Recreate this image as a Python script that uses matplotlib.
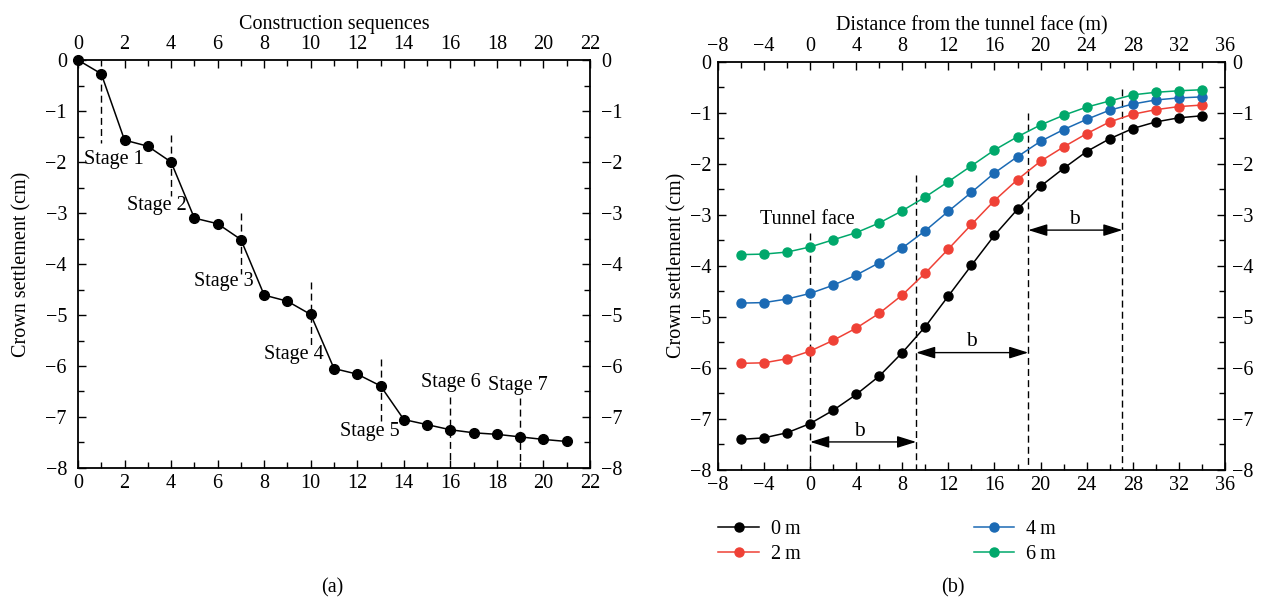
import matplotlib
matplotlib.use("Agg")
import matplotlib.pyplot as plt
from matplotlib.ticker import MultipleLocator

plt.rcParams["font.family"] = ["Liberation Serif", "DejaVu Serif"]
FS = 14.5
plt.rcParams["font.size"] = FS

# ── (a) construction sequences ──────────────────────────────────
seq = list(range(22))
crown_seq = [0.0, -0.27, -1.57, -1.69, -2.0, -3.10, -3.21, -3.52, -4.61, -4.73, -4.99,
             -6.05, -6.16, -6.39, -7.05, -7.15, -7.25, -7.31, -7.34, -7.39, -7.44, -7.48]
stage_names = ["Stage 1", "Stage 2", "Stage 3", "Stage 4", "Stage 5", "Stage 6", "Stage 7"]
stage_x     = [1, 4, 7, 10, 13, 16, 19]
stage_y0    = [-0.25, -1.48, -3.0, -4.36, -5.87, -6.6, -6.62]
stage_y1    = [-1.62, -2.67, -4.2, -5.61, -7.08, -7.9, -7.9]
stage_lx    = [1.55, 3.41, 6.27, 9.27, 12.53, 16.0, 18.9]
stage_ly    = [-1.95, -2.86, -4.34, -5.77, -7.29, -6.33, -6.39]

# ── (b) distance from tunnel face ───────────────────────────────
dist = list(range(-6, 35, 2))
s0 = [-7.40, -7.37, -7.27, -7.09, -6.83, -6.52, -6.16, -5.70, -5.19, -4.59, -3.99,
      -3.40, -2.89, -2.44, -2.09, -1.76, -1.51, -1.31, -1.18, -1.10, -1.06]
s2 = [-5.91, -5.90, -5.82, -5.67, -5.46, -5.22, -4.93, -4.57, -4.14, -3.67, -3.19,
      -2.72, -2.31, -1.95, -1.67, -1.41, -1.18, -1.03, -0.94, -0.88, -0.85]
s4 = [-4.73, -4.72, -4.65, -4.54, -4.38, -4.18, -3.94, -3.65, -3.31, -2.93, -2.56,
      -2.18, -1.86, -1.56, -1.33, -1.13, -0.95, -0.83, -0.75, -0.71, -0.69]
s6 = [-3.78, -3.77, -3.73, -3.63, -3.49, -3.35, -3.16, -2.92, -2.65, -2.35, -2.04,
      -1.73, -1.47, -1.24, -1.05, -0.89, -0.77, -0.65, -0.60, -0.57, -0.55]
series_labels = ["0\u2009m", "2\u2009m", "4\u2009m", "6\u2009m"]
series_colors = ["#000000", "#ef4136", "#1b6ab4", "#00a86b"]

dash_x  = [0, 9.2, 18.93, 27.1]
dash_y0 = [-3.36, -2.22, -1.01, -0.54]
arrow_y = [-7.45, -5.70, -3.30]
b_lx    = [4.3, 13.96, 22.9]
b_ly    = [-7.25, -5.49, -3.10]

DASH = (0, (5, 3))


def style_axes(ax, ypad, ylabelpad):
    ax.tick_params(which="both", direction="in", top=True, right=True,
                   labeltop=True, labelright=True, labelsize=FS, pad=4)
    ax.tick_params(axis="y", which="major", pad=ypad)
    ax.tick_params(which="major", length=6, width=1)
    ax.tick_params(which="minor", length=4, width=1)
    ax.yaxis.set_major_locator(MultipleLocator(1))
    ax.yaxis.set_minor_locator(MultipleLocator(0.5))
    ax.set_ylim(-8, 0)
    ax.set_ylabel("Crown settlement (cm)", fontsize=FS, labelpad=ylabelpad)
    ax.xaxis.set_label_position("top")
    for sp in ax.spines.values():
        sp.set_linewidth(1.3)


fig = plt.figure(figsize=(12.64, 6.10), dpi=100)

# (a)
ax1 = fig.add_axes([0.0617, 0.2328, 0.4051, 0.6688])
ax1.plot(seq, crown_seq, color="black", lw=1.1, marker="o", ms=7, clip_on=False, zorder=3)
for x, y0, y1 in zip(stage_x, stage_y0, stage_y1):
    ax1.plot([x, x], [y0, y1], color="black", lw=1, ls=DASH)
for name, lx, ly in zip(stage_names, stage_lx, stage_ly):
    ax1.text(lx, ly, name, ha="center", va="center", fontsize=FS)
ax1.set_xlim(0, 22)
ax1.xaxis.set_major_locator(MultipleLocator(2))
ax1.xaxis.set_minor_locator(MultipleLocator(1))
style_axes(ax1, ypad=8, ylabelpad=10)
ax1.set_xlabel("Construction sequences", fontsize=FS, labelpad=5)

# (b)
ax2 = fig.add_axes([0.568, 0.2295, 0.4011, 0.6694])
for ys, lab, col in zip([s0, s2, s4, s6], series_labels, series_colors):
    ax2.plot(dist, ys, color=col, lw=1.1, marker="o", ms=6.5, label=lab, zorder=3)
for x, y0 in zip(dash_x, dash_y0):
    ax2.plot([x, x], [y0, -8], color="black", lw=1, ls=DASH)
for i, (ay, lx, ly) in enumerate(zip(arrow_y, b_lx, b_ly)):
    ax2.annotate("", xy=(dash_x[i + 1], ay), xytext=(dash_x[i], ay),
                 arrowprops=dict(arrowstyle="<|-|>,head_length=0.8,head_width=0.25",
                                 color="black", lw=1, shrinkA=0, shrinkB=0))
    ax2.text(lx, ly, "b", ha="center", va="center", fontsize=FS + 1)
ax2.text(-0.2, -3.10, "Tunnel face", ha="center", va="center", fontsize=FS)
ax2.set_xlim(-8, 36)
ax2.xaxis.set_major_locator(MultipleLocator(4))
ax2.xaxis.set_minor_locator(MultipleLocator(2))
style_axes(ax2, ypad=5, ylabelpad=2)
ax2.set_xlabel("Distance from the tunnel face (m)", fontsize=FS, labelpad=5)

fig.legend(loc="upper left", bbox_to_anchor=(0.554, 0.178), ncol=2,
           frameon=False, handlelength=2.0, handletextpad=0.6, columnspacing=8.6,
           labelspacing=0.3, fontsize=FS, bbox_transform=fig.transFigure)

fig.text(0.2627, 0.02, "(a)", ha="center", va="bottom", fontsize=FS)
fig.text(0.754, 0.02, "(b)", ha="center", va="bottom", fontsize=FS)

fig.savefig("out.png", dpi=100, facecolor="white")
